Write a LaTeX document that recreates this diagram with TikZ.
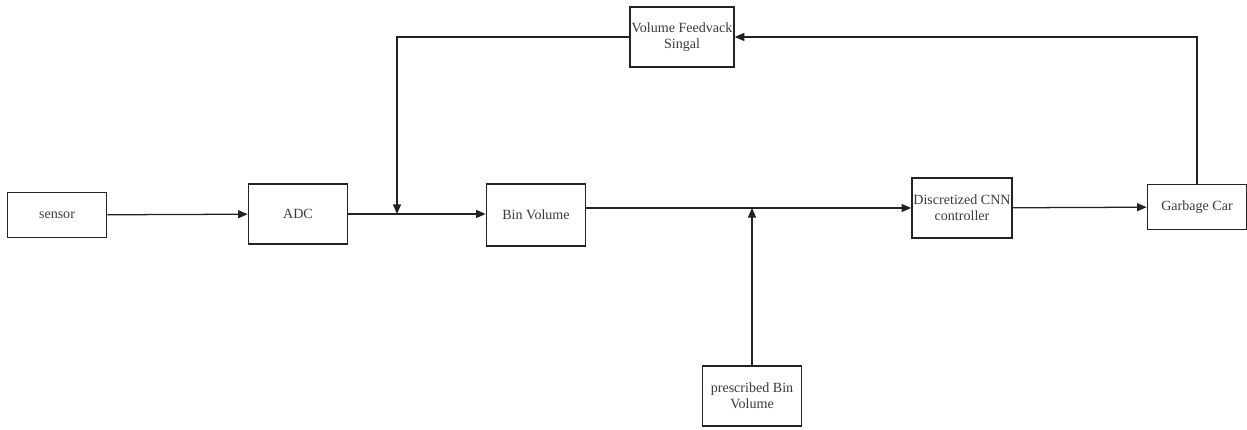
\documentclass[tikz,border=0pt]{standalone}
\usepackage{fontspec}
\setmainfont{Liberation Serif}
\usepackage{tikz}
\usetikzlibrary{arrows.meta, positioning, calc}
\definecolor{mDark}{HTML}{222222}
\definecolor{mText}{HTML}{3A3A3A}

\begin{document}
\begin{tikzpicture}[
    blk/.style={draw=mDark, line width=1.2pt, minimum width=2.475cm, minimum height=1.5cm,
                align=center, text=mText, font=\fontsize{10}{11.5}\selectfont, inner sep=1pt},
    lowblk/.style={blk, minimum height=1.125cm},
    conn/.style={draw=mDark, line width=0.9pt},
    arr/.style={conn, -{Triangle[length=2.4mm, width=2mm]}}
  ]
    \useasboundingbox (0,0) rectangle (31.175,10.75);
    % blocks
    \node[lowblk] (sensor) at (1.425,5.375) {sensor};
    \node[blk] (adc) at (7.45,5.4) {ADC};
    \node[blk, minimum height=1.55cm] (bin) at (13.4,5.375) {Bin Volume};
    \node[blk] (feedback) at (17.05,9.825) {Volume Feedvack\\Singal};
    \node[blk] (cnn) at (24.05,5.55) {Discretized CNN\\controller};
    \node[lowblk] (car) at (29.925,5.575) {Garbage Car};
    \node[blk] (ref) at (18.8,0.85) {prescribed Bin\\Volume};
    % junctions
    \coordinate (jfb) at (9.925,5.4);
    \coordinate (jref) at (ref.north |- cnn.west);
    % forward path
    \draw[arr] (sensor) -- (adc);
    \draw[arr] (adc) -- (jfb) -- (bin.west |- jfb);
    \draw[arr] (bin.east |- jref) -- (cnn.west);
    \draw[arr] (cnn) -- (car);
    % feedback and reference
    \draw[arr] (car.north) |- (feedback.east);
    \draw[arr] (feedback.west) -| (jfb);
    \draw[arr] (ref.north) -- (jref);
  \end{tikzpicture}
\end{document}
